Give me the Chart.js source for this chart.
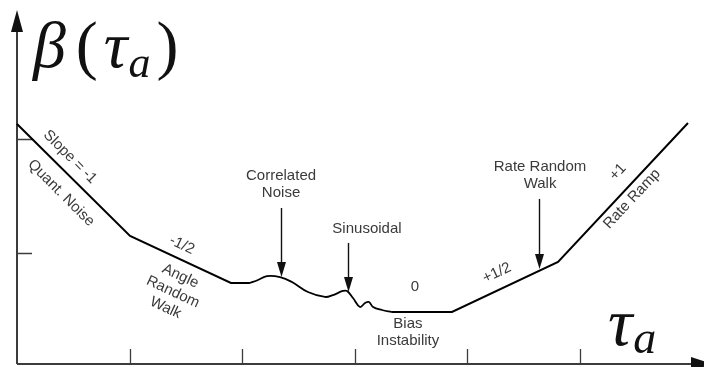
<!DOCTYPE html>
<html lang="en">
<head>
<meta charset="UTF-8">
<title>Allan Deviation Sketch</title>
<script src="https://cdn.jsdelivr.net/npm/chart.js"></script>
<style>
  * { margin: 0; padding: 0; }
  body { background: #fff; }
  .chartBox { width: 704px; height: 367px; }
</style>
</head>
<body>
<div class="chartBox"><canvas id="myChart"></canvas></div>
<script>
// log(tau) and log(beta) in decade units
const trendTau  = [0, 1.004, 1.900, 2.069, null, 3.330, 3.863, 4.805, 5.959];
const trendBeta = [2.133, 1.138, 0.720, 0.720, null, 0.462, 0.462, 0.907, 2.142];

// correlated noise bump + sinusoidal wiggle
const wiggleTau  = [2.069, 2.140, 2.220, 2.336, 2.442, 2.584, 2.735, 2.806, 2.895, 2.931, 2.984, 3.046, 3.091, 3.126, 3.162, 3.242, 3.330];
const wiggleBeta = [0.720, 0.747, 0.782, 0.773, 0.729, 0.640, 0.596, 0.613, 0.649, 0.649, 0.587, 0.507, 0.542, 0.551, 0.507, 0.480, 0.462];

const xTicks = [1, 2, 3, 4, 5];
const yTicks = [0.99, 2];

// text labels: [text, tau, beta, rotation deg]
const labels = [
  ['Slope = -1', 0.471, 1.84, 45],
  ['Quant. Noise', 0.391, 1.52, 45],
  ['-1/2', 1.465, 1.058, 25],
  ['Angle\nRandom\nWalk', 1.385, 0.64, 25],
  ['Correlated\nNoise', 2.345, 1.596, 0],
  ['Sinusoidal', 3.108, 1.20, 0],
  ['0', 3.535, 0.684, 0],
  ['Bias\nInstability', 3.472, 0.28, 0],
  ['Rate Random\nWalk', 4.645, 1.676, 0],
  ['+1/2', 4.263, 0.809, -25],
  ['+1', 5.337, 1.707, -47],
  ['Rate Ramp', 5.462, 1.467, -47]
];

// pointer arrows: [tau, beta top, beta tip]
const pointers = [
  [2.345, 1.387, 0.773],
  [2.940, 1.076, 0.640],
  [4.636, 1.467, 0.844]
];

function pts(xs, ys) {
  return xs.map((x, i) => x === null ? { x: NaN, y: null } : { x: x, y: ys[i] });
}

function drawPointer(ctx, x, yTop, yTip) {
  const head = 15, half = 4.5;
  ctx.beginPath();
  ctx.moveTo(x, yTop);
  ctx.lineTo(x, yTip - head + 1);
  ctx.stroke();
  ctx.beginPath();
  ctx.moveTo(x, yTip);
  ctx.lineTo(x - half, yTip - head);
  ctx.lineTo(x + half, yTip - head);
  ctx.closePath();
  ctx.fill();
}

function drawMath(ctx, parts, x, base) {
  parts.forEach(p => {
    ctx.font = p[1];
    ctx.fillText(p[0], x, base + p[2]);
    x += ctx.measureText(p[0]).width + p[3];
  });
}

const sketchPlugin = {
  id: 'sketch',
  beforeDatasetsDraw(chart) {
    const ctx = chart.ctx, a = chart.chartArea;
    const xs = chart.scales.x, ys = chart.scales.y;
    ctx.save();
    ctx.strokeStyle = '#3c3c3c';
    ctx.fillStyle = '#111';
    ctx.lineWidth = 2;
    // axes
    ctx.beginPath();
    ctx.moveTo(a.left, a.bottom);
    ctx.lineTo(a.left, a.top + 18);
    ctx.moveTo(a.left, a.bottom);
    ctx.lineTo(a.right - 10, a.bottom);
    ctx.stroke();
    ctx.beginPath();
    ctx.moveTo(a.left, a.top);
    ctx.lineTo(a.left - 6, a.top + 22);
    ctx.lineTo(a.left + 6, a.top + 22);
    ctx.closePath();
    ctx.fill();
    ctx.beginPath();
    ctx.moveTo(a.right + 8, a.bottom);
    ctx.lineTo(a.right - 13, a.bottom - 7);
    ctx.lineTo(a.right - 13, a.bottom + 7);
    ctx.closePath();
    ctx.fill();
    // ticks
    ctx.lineWidth = 1.3;
    ctx.beginPath();
    xTicks.forEach(t => {
      const px = Math.round(xs.getPixelForValue(t)) + 0.5;
      ctx.moveTo(px, a.bottom);
      ctx.lineTo(px, a.bottom - 15);
    });
    yTicks.forEach(t => {
      const py = Math.round(ys.getPixelForValue(t)) + 0.5;
      ctx.moveTo(a.left, py);
      ctx.lineTo(a.left + 15, py);
    });
    ctx.stroke();
    ctx.restore();
  },
  afterDatasetsDraw(chart) {
    const ctx = chart.ctx, a = chart.chartArea;
    const xs = chart.scales.x, ys = chart.scales.y;
    ctx.save();
    // pointer arrows
    ctx.strokeStyle = '#111';
    ctx.fillStyle = '#111';
    ctx.lineWidth = 1.4;
    pointers.forEach(p => {
      drawPointer(ctx, Math.round(xs.getPixelForValue(p[0])) + 0.5,
        ys.getPixelForValue(p[1]), ys.getPixelForValue(p[2]));
    });
    // labels
    ctx.fillStyle = '#3a3a3a';
    ctx.font = '15px "Liberation Sans", Arial, sans-serif';
    ctx.textAlign = 'center';
    ctx.textBaseline = 'middle';
    labels.forEach(l => {
      const lines = l[0].split('\n');
      ctx.save();
      ctx.translate(xs.getPixelForValue(l[1]), ys.getPixelForValue(l[2]));
      ctx.rotate(l[3] * Math.PI / 180);
      lines.forEach((s, i) => ctx.fillText(s, 0, (i - (lines.length - 1) / 2) * 17.5));
      ctx.restore();
    });
    // axis titles
    ctx.fillStyle = '#111';
    ctx.textAlign = 'left';
    ctx.textBaseline = 'alphabetic';
    const it = 'italic 66px "Liberation Serif", serif';
    const up = '66px "Liberation Serif", serif';
    const sub = 'italic 44px "Liberation Serif", serif';
    drawMath(ctx, [['\u03b2', it, 0, 10], ['(', up, 0, 6], ['\u03c4', it, 0, 1], ['a', sub, 10, 6], [')', up, 0, 0]], a.left + 16, a.top + 57);
    drawMath(ctx, [['\u03c4', 'italic 68px "Liberation Serif", serif', 0, 1], ['a', 'italic 46px "Liberation Serif", serif', 8, 0]], 608, 345);
    ctx.restore();
  }
};

const data = {
  datasets: [{
    data: pts(trendTau, trendBeta),
    borderColor: '#000',
    borderWidth: 2,
    pointRadius: 0,
    tension: 0,
    spanGaps: false,
    clip: false
  }, {
    data: pts(wiggleTau, wiggleBeta),
    borderColor: '#000',
    borderWidth: 1.8,
    pointRadius: 0,
    tension: 0.4,
    clip: false
  }]
};

const config = {
  type: 'line',
  data,
  options: {
    responsive: true,
    maintainAspectRatio: false,
    animation: false,
    events: [],
    layout: { padding: { left: 17, right: 0, top: 10, bottom: 3 } },
    plugins: { legend: { display: false }, tooltip: { enabled: false } },
    scales: {
      x: { type: 'linear', display: false, min: 0, max: 687 / 112.6 },
      y: { type: 'linear', display: false, min: 0, max: 354 / 112.5 }
    }
  },
  plugins: [sketchPlugin]
};

const myChart = new Chart(document.getElementById('myChart'), config);
</script>
</body>
</html>
